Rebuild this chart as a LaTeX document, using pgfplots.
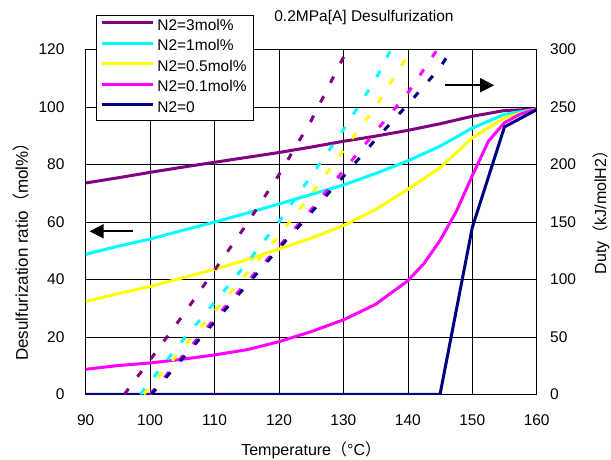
\documentclass[border=0pt]{standalone}
\usepackage{pgfplots}
\pgfplotsset{compat=1.18}
\usepackage{fontspec}
\setmainfont{Liberation Sans}
\newfontfamily\cjk{Noto Sans CJK JP}
\usetikzlibrary{arrows.meta}

\definecolor{cpurple}{RGB}{128,0,128}
\definecolor{ccyan}{RGB}{0,255,255}
\definecolor{cyellow}{RGB}{255,255,0}
\definecolor{cmagenta}{RGB}{255,0,255}
\definecolor{cnavy}{RGB}{0,0,128}

\pgfplotsset{
  base/.style={
    scale only axis, width=451pt, height=345pt,
    xmin=90, xmax=160,
    tick align=inside, major tick length=0pt,
    axis line style={black, line width=0.8pt},
    /pgf/number format/assume math mode=true,
    ticklabel style={font=\fontsize{15.5}{18}\selectfont},
    label style={font=\fontsize{16}{19}\selectfont},
  },
  solid/.style={line width=3pt, line join=round},
  dash/.style={line width=3pt, dash pattern=on 7pt off 15pt},
}

\begin{document}
\begin{tikzpicture}
\begin{axis}[base,
  ymin=0, ymax=120,
  xtick={90,100,...,160}, ytick={0,20,...,120},
  xtick pos=bottom, ytick pos=left,
  grid=major, major grid style={black, line width=0.6pt},
  yticklabel style={xshift=-17.7pt},
  xticklabel style={yshift=-16.7pt},
  xlabel={Temperature{\cjk （}°C{\cjk ）}},
  xlabel style={at={(axis description cs:0.5,-0.176)}, anchor=base},
  ylabel={Desulfurization ratio{\cjk （}mol\%{\cjk ）}},
  ylabel style={at={(axis description cs:-0.1423,0.4255)}, anchor=center, font=\fontsize{17}{20}\selectfont},
  title={0.2MPa[A] Desulfurization},
  title style={at={(axis description cs:0.617,1.076)}, anchor=center, font=\fontsize{15.5}{18}\selectfont},
  legend style={at={(axis description cs:0.0228,1.0994)}, anchor=north west,
    draw=black, line width=0.8pt, fill=white, inner xsep=4pt, inner ysep=1pt,
    row sep=0pt, font=\fontsize{15.5}{18}\selectfont,
    nodes={inner sep=3pt, text height=11pt, text depth=3.5pt}},
  legend cell align=left,
  legend image code/.code={\draw[#1] (0pt,4pt) -- (51pt,4pt);},
]
\addplot[solid, cpurple] coordinates {
  (90,73.5) (95,75.3) (100,77.2) (105,79) (110,80.7) (115,82.4) (120,84.1)
  (125,86) (130,88) (135,89.8) (140,91.8) (145,94.1) (150,96.7) (155,98.7) (160,99.2)};
\addlegendentry{N2=3mol\%}
\addplot[solid, ccyan] coordinates {
  (90,48.7) (95,51.5) (100,54) (105,57) (110,59.9) (115,63) (120,66.2)
  (125,69.5) (130,72.8) (135,76.8) (140,81.2) (145,86.3) (150,92.6) (155,97.4) (160,99.2)};
\addlegendentry{N2=1mol\%}
\addplot[solid, cyellow] coordinates {
  (90,32.3) (95,35) (100,37.5) (105,40.5) (110,43.5) (115,46.8) (120,50.5)
  (125,54.3) (130,58.7) (135,64.3) (140,71.3) (145,78.8) (150,89.2) (155,96.2) (160,99.2)};
\addlegendentry{N2=0.5mol\%}
\addplot[solid, cmagenta] coordinates {
  (90,8.7) (95,10) (100,10.9) (105,12.2) (110,13.7) (115,15.5) (120,18.3)
  (125,21.8) (130,25.9) (135,31.3) (140,39.5) (142.5,45.5) (145,53.5) (147.5,63.5)
  (150,76) (152.5,88) (155,94.5) (157.5,97.5) (160,99.2)};
\addlegendentry{N2=0.1mol\%}
\addplot[solid, cnavy] coordinates {
  (90,0) (145,0) (150,58) (155,93) (160,99)};
\addlegendentry{N2=0}
\draw[line width=1.6pt, -{Triangle[length=14pt,width=14pt]}] (axis cs:97.4,56.7) -- (axis cs:90.6,56.7);
\draw[line width=1.6pt, -{Triangle[length=14pt,width=14pt]}] (axis cs:145.8,107.5) -- (axis cs:153.4,107.5);
\coordinate (sw) at (rel axis cs:0,0);
\end{axis}

\begin{axis}[base,
  ymin=0, ymax=300,
  axis x line=none, axis y line*=right,
  ytick={0,50,...,300},
  yticklabel style={xshift=10pt},
  ylabel={Duty{\cjk （}kJ/molH2{\cjk ）}},
  ylabel style={at={(axis description cs:1.1426,0.539)}, anchor=center, rotate=0},
]
\addplot[dash, cpurple] coordinates {
  (96,0) (100,30) (105,68) (110,108) (115,148) (120,191) (125,238) (130,293) (130.6,300)};
\addplot[dash, ccyan] coordinates {
  (98.5,0) (100,11) (105,46.5) (110,80) (115,114) (120,150) (125,190) (130,230) (135,274) (137.4,300)};
\addplot[dash, cyellow] coordinates {
  (99,0) (100,6) (105,40) (110,72) (115,105) (120,138) (125,174) (130,212) (135,250) (140,295) (140.5,300)};
\addplot[dash, cmagenta] coordinates {
  (100,0) (105,33) (110,65.6) (115,97.5) (120,128.5) (125,160.5) (130,194.5) (135,228.5) (140,262) (144.6,300)};
\addplot[dash, cnavy] coordinates {
  (100.2,0) (105,31) (110,63) (115,95) (120,127) (125,158) (130,189.5) (135,221.5) (140,252) (145,284) (146.8,300)};
\end{axis}
\pgfresetboundingbox
\path (sw) ++(-85.7pt,-64.7pt) rectangle ++(611pt,459pt);
\end{tikzpicture}
\end{document}
